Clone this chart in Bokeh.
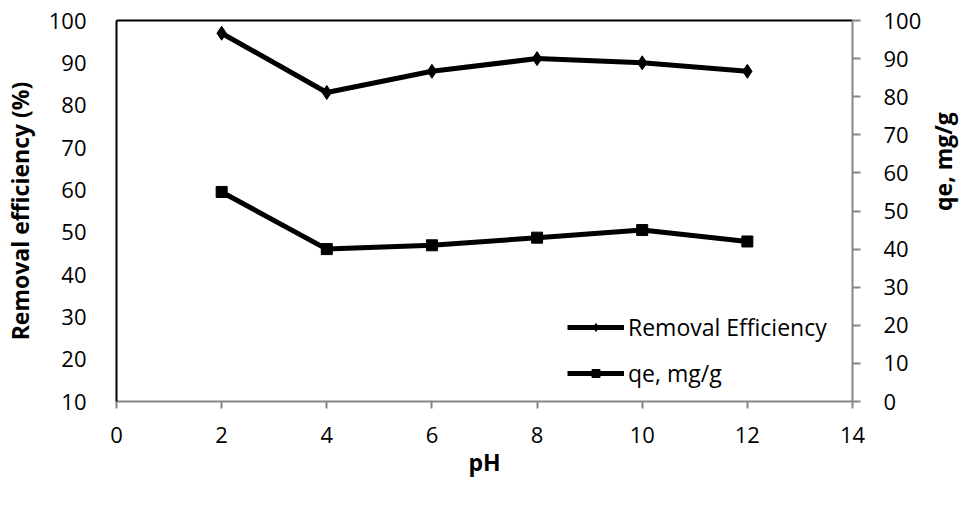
import math
from bokeh.plotting import figure
from bokeh.models import (Range1d, LinearAxis, FixedTicker, Legend, LegendItem)
from bokeh.embed import file_html
from bokeh.resources import INLINE

# ---- data ----
ph = [2, 4, 6, 8, 10, 12]
removal_eff = [97, 83, 88, 91, 90, 88]
qe = [55, 40, 41, 43, 45, 42]
x_ticks = [0, 2, 4, 6, 8, 10, 12, 14]
left_ticks = [10, 20, 30, 40, 50, 60, 70, 80, 90, 100]
right_ticks = [0, 10, 20, 30, 40, 50, 60, 70, 80, 90, 100]

FONT = "Open Sans"
TICK_SIZE = "22px"
TITLE_SIZE = "23px"
GRAY = "#868686"

p = figure(output_backend="svg", toolbar_location=None,
           x_range=Range1d(0, 14), y_range=Range1d(10, 100),
           x_axis_location=None, y_axis_location=None,
           frame_width=736, frame_height=381,
           min_border_left=112, min_border_top=20, min_border_right=10, min_border_bottom=10)
p.extra_y_ranges = {"qe": Range1d(0, 100)}
p.outline_line_color = None
p.xgrid.visible = False
p.ygrid.visible = False
p.background_fill_color = "white"
p.border_fill_color = "white"

# left axis
la = LinearAxis(ticker=FixedTicker(ticks=left_ticks), axis_label="Removal efficiency (%)")
la.axis_line_color = "black"
la.axis_line_width = 2
la.major_tick_line_color = None
la.minor_tick_line_color = None
la.major_label_standoff = 24
la.axis_label_standoff = 10
p.add_layout(la, "left")

# right axis
ra = LinearAxis(y_range_name="qe", ticker=FixedTicker(ticks=right_ticks), axis_label="qe, mg/g")
ra.axis_line_color = GRAY
ra.axis_line_width = 2
ra.major_tick_line_color = GRAY
ra.major_tick_line_width = 2
ra.major_tick_in = 0
ra.major_tick_out = 8
ra.minor_tick_line_color = None
ra.major_label_standoff = 23
ra.axis_label_standoff = 19
ra.axis_label_orientation = math.pi / 2
p.add_layout(ra, "right")

# bottom axis
ba = LinearAxis(ticker=FixedTicker(ticks=x_ticks), axis_label="pH")
ba.axis_line_color = GRAY
ba.axis_line_width = 2
ba.major_tick_line_color = GRAY
ba.major_tick_line_width = 2
ba.major_tick_in = 0
ba.major_tick_out = 7
ba.minor_tick_line_color = None
ba.major_label_standoff = 18
ba.axis_label_standoff = 0
p.add_layout(ba, "below")

# top border line
ta = LinearAxis(ticker=FixedTicker(ticks=[]))
ta.axis_line_color = "black"
ta.axis_line_width = 2
ta.major_tick_line_color = None
ta.minor_tick_line_color = None
ta.major_label_text_font_size = "0px"
ta.major_label_standoff = 0
p.add_layout(ta, "above")

for ax in (la, ra, ba):
    ax.major_label_text_font = FONT
    ax.major_label_text_font_size = TICK_SIZE
    ax.major_label_text_color = "black"
    ax.axis_label_text_font = FONT
    ax.axis_label_text_font_size = TITLE_SIZE
    ax.axis_label_text_font_style = "bold"
    ax.axis_label_text_color = "black"

# series
r1l = p.line(ph, removal_eff, line_color="black", line_width=5)
r1m = p.scatter(ph, removal_eff, marker="diamond", size=14, fill_color="black", line_color="black")
r2l = p.line(ph, qe, y_range_name="qe", line_color="black", line_width=5)
r2m = p.scatter(ph, qe, y_range_name="qe", marker="square", size=11, fill_color="black", line_color="black")

legend = Legend(items=[LegendItem(label="Removal Efficiency", renderers=[r1l, r1m]),
                       LegendItem(label="qe, mg/g", renderers=[r2l, r2m])],
                location=(451, 12), orientation="vertical")
legend.border_line_color = None
legend.background_fill_alpha = 0
legend.padding = 0
legend.margin = 0
legend.spacing = 14
legend.glyph_width = 57
legend.glyph_height = 20
legend.label_height = 20
legend.label_standoff = 4
legend.label_text_font = FONT
legend.label_text_font_size = "23px"
legend.label_text_color = "black"
p.add_layout(legend, "center")

open("out.html", "w").write(file_html(p, INLINE))
